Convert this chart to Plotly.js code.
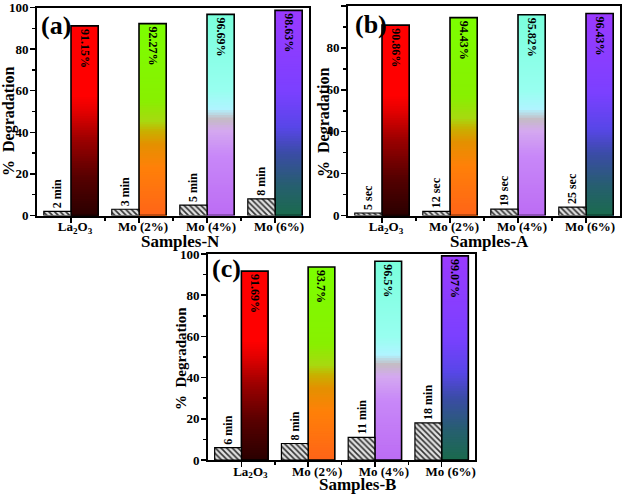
<!DOCTYPE html>
<html>
<head>
<meta charset="utf-8">
<script src="https://cdn.plot.ly/plotly-3.0.1.min.js"></script>
<style>html,body{margin:0;padding:0;background:#fff;}#chart{width:626px;height:494px;}</style>
</head>
<body>
<div id="chart"></div>
<script>
// ---------- data ----------
const categories = ['La<sub>2</sub>O<sub>3</sub>', 'Mo (2%)', 'Mo (4%)', 'Mo (6%)'];

// Samples-N (panel a)
const degN = [91.15, 92.27, 96.69, 98.63];
const timeHeightN = [2, 3, 5, 8];
const timeLabelN = ['2 min', '3 min', '5 min', '8 min'];

// Samples-A (panel b)
const degA = [90.86, 94.43, 95.82, 96.43];
const timeHeightA = [1.2, 2, 3, 4];
const timeLabelA = ['5 sec', '12 sec', '19 sec', '25 sec'];

// Samples-B (panel c)
const degB = [91.69, 93.7, 96.5, 99.07];
const timeHeightB = [6, 8, 11, 18];
const timeLabelB = ['6 min', '8 min', '11 min', '18 min'];

const yTicks = [0, 20, 40, 60, 80, 100];

// ---------- styles ----------
const FONT = 'Liberation Serif, Times New Roman, serif';
const gradients = [
  [[0,'#2a0000'],[0.2,'#560000'],[0.4,'#9c0000'],[0.55,'#e40000'],[0.63,'#ff0000'],[1,'#ff0000']],
  [[0,'#ff6418'],[0.25,'#ff8008'],[0.37,'#e49000'],[0.44,'#c8b000'],[0.49,'#a8d810'],[0.6,'#88f000'],[1,'#7cff00']],
  [[0,'#bc6cf4'],[0.3,'#c888f8'],[0.42,'#d4a8f0'],[0.48,'#c4bcc4'],[0.53,'#b0f4ff'],[0.62,'#98fff0'],[1,'#7affdc']],
  [[0,'#1a6a4c'],[0.15,'#275e70'],[0.3,'#3a4ca4'],[0.43,'#5846e8'],[0.6,'#7a40ff'],[1,'#9a3aff']]
];
const NSEG = 80;

function hex2rgb(h){return [parseInt(h.slice(1,3),16),parseInt(h.slice(3,5),16),parseInt(h.slice(5,7),16)];}
function colorAt(stops, f){
  for (let i=1;i<stops.length;i++){
    if (f <= stops[i][0]){
      const a=stops[i-1], b=stops[i];
      const t=(f-a[0])/((b[0]-a[0])||1);
      const ca=hex2rgb(a[1]), cb=hex2rgb(b[1]);
      const c=ca.map((v,j)=>Math.round(v+(cb[j]-v)*t));
      return 'rgb('+c.join(',')+')';
    }
  }
  return stops[stops.length-1][1];
}

const xs = categories.map((_, i) => i);
const traces = [];

function panel(sfx, deg, tHeight, tLabel){
  const xa = 'x'+sfx, ya = 'y'+sfx;
  // gradient bars: nested bars drawn tallest first
  for (let k=0;k<NSEG;k++){
    const frac = (NSEG-k)/NSEG;
    const fc = (NSEG-k-0.5)/NSEG;
    traces.push({
      type:'bar', x:xs, y:deg.map(v=>v*frac), xaxis:xa, yaxis:ya,
      width:0.4, offset:0,
      marker:{color:gradients.map(g=>colorAt(g,fc)), line:{width:0}},
      hoverinfo:'skip', showlegend:false
    });
  }
  // outline + value labels
  traces.push({
    type:'bar', x:xs, y:deg, xaxis:xa, yaxis:ya, width:0.4, offset:0,
    marker:{color:'rgba(0,0,0,0)', line:{color:'black', width:1.6}},
    text:deg.map(v=>v+'%'), textposition:'inside', insidetextanchor:'end', textangle:90,
    insidetextfont:{family:FONT, size:12, weight:'bold', color:'black'},
    constraintext:'none',
    hoverinfo:'skip', showlegend:false
  });
  // hatched time bars
  traces.push({
    type:'bar', x:xs, y:tHeight, xaxis:xa, yaxis:ya, width:0.4, offset:-0.4,
    marker:{color:'#dcdcdc', line:{color:'black', width:1.2},
      pattern:{shape:'\\', fgcolor:'#333333', bgcolor:'#e0e0e0', size:4, solidity:0.4}},
    text:tLabel, textposition:'outside', textangle:-90, cliponaxis:false,
    outsidetextfont:{family:FONT, size:12, weight:'bold', color:'black'},
    constraintext:'none',
    hoverinfo:'skip', showlegend:false
  });
}
panel('', degN, timeHeightN, timeLabelN);
panel('2', degA, timeHeightA, timeLabelA);
panel('3', degB, timeHeightB, timeLabelB);

const W=626, H=494;
const px = v => v/W, py = v => 1 - v/H;

function xax(d0, d1, anchor, shift){
  return {domain:[px(d0),px(d1)], anchor:anchor, range:[-0.5,3.5], tickmode:'array', tickvals:xs, ticktext:categories,
    ticks:'outside', ticklen:5, tickwidth:1.5, tickcolor:'black', linecolor:'black', linewidth:2, mirror:true,
    showgrid:false, zeroline:false, fixedrange:true, ticklabelshift:shift, ticklabelstandoff:-7,
    tickfont:{family:FONT, size:13, weight:'bold', color:'black'},
    minor:{tickvals:[0.5,1.5,2.5], ticks:'outside', ticklen:3, tickwidth:1.5, tickcolor:'black'}};
}
function yax(t, b, anchor){
  return {domain:[py(b),py(t)], anchor:anchor, range:[0,100], tickmode:'array', tickvals:yTicks,
    ticks:'outside', ticklen:5, tickwidth:1.5, tickcolor:'black', linecolor:'black', linewidth:2, mirror:true,
    showgrid:false, zeroline:false, fixedrange:true, ticklabelstandoff:-1,
    tickfont:{family:FONT, size:13, weight:'bold', color:'black'},
    minor:{dtick:10, tick0:0, ticks:'outside', ticklen:3, tickwidth:1.5, tickcolor:'black'}};
}

function ann(text, x, y, size, angle){
  return {text:text, x:px(x), y:py(y), xref:'paper', yref:'paper', showarrow:false, textangle:angle||0,
    xanchor:'center', yanchor:'middle', font:{family:FONT, size:size, weight:'bold', color:'black'}};
}

const layout = {
  width:W, height:H, margin:{l:0,r:0,t:0,b:0}, paper_bgcolor:'white', plot_bgcolor:'white',
  barmode:'overlay', showlegend:false,
  xaxis: xax(37, 309, 'y', 4),
  yaxis: yax(7.5, 215.5, 'x'),
  xaxis2: xax(348, 620, 'y2', 4),
  yaxis2: yax(6, 215.5, 'x2'),
  xaxis3: xax(208, 475, 'y3', 9),
  yaxis3: yax(254, 460, 'x3'),
  annotations:[
    ann('(a)', 56, 26, 26), ann('(b)', 371, 24, 26), ann('(c)', 226, 268, 26),
    ann('%  Degradation', 9, 122, 16, -90), ann('%  Degradation', 324, 122, 16, -90), ann('%  Degradation', 181, 359, 15, -90),
    ann('Samples-N', 180, 241, 17), ann('Samples-A', 490, 241, 17), ann('Samples-B', 357, 484, 17)
  ]
};

Plotly.newPlot('chart', traces, layout, {staticPlot:true, displayModeBar:false});
</script>
</body>
</html>
